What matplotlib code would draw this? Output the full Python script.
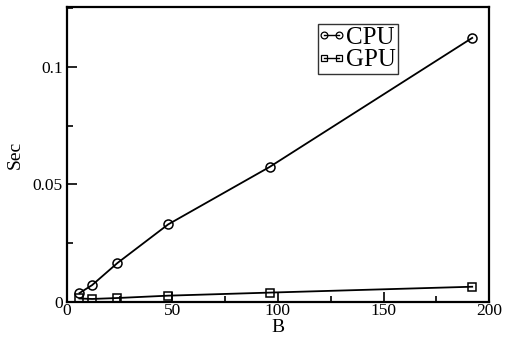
import matplotlib
matplotlib.use("Agg")
import matplotlib.pyplot as plt
from matplotlib.ticker import MultipleLocator
from matplotlib.lines import Line2D
from matplotlib.legend_handler import HandlerLine2D

B = [6, 12, 24, 48, 96, 192]
cpu = [0.0038, 0.0072, 0.0166, 0.033, 0.0574, 0.1123]
gpu = [0.0015, 0.0013, 0.0017, 0.0027, 0.0040, 0.0065]

plt.rcParams['font.family'] = ['Liberation Serif', 'DejaVu Serif']

fig = plt.figure(figsize=(5.1, 3.43), dpi=100)
ax = fig.add_axes([0.131, 0.1195, 0.828, 0.8605])

ax.plot(B, cpu, color='black', lw=1.3, marker='o', ms=6.5, mfc='none', mec='black', mew=1.1, label='CPU')
ax.plot(B, gpu, color='black', lw=1.3, marker='s', ms=5.5, mfc='none', mec='black', mew=1.1, label='GPU')

ax.set_xlim(0, 200)
ax.set_ylim(0, 0.1255)
ax.xaxis.set_minor_locator(MultipleLocator(25))
ax.yaxis.set_minor_locator(MultipleLocator(0.025))
ax.set_xticks([0, 50, 100, 150, 200])
ax.set_xticklabels(['0', '50', '100', '150', '200'])
ax.set_yticks([0, 0.05, 0.1])
ax.set_yticklabels(['0', '0.05', '0.1'])
ax.tick_params(which='both', direction='in', labelsize=12.5, width=1.2)
ax.tick_params(which='major', length=7)
ax.tick_params(which='minor', length=4)
ax.tick_params(axis='x', pad=1)
ax.tick_params(axis='y', pad=3)
for s in ax.spines.values():
    s.set_linewidth(1.6)

ax.set_xlabel('B', fontsize=14, labelpad=0)
ax.set_ylabel('Sec', fontsize=14, labelpad=6)

leg = ax.legend(loc='upper left', bbox_to_anchor=(0.595, 0.942), numpoints=2, fontsize=18,
                frameon=True, fancybox=False, edgecolor='black', handlelength=0.9,
                handletextpad=0.1, borderpad=0.1, labelspacing=0.0, markerscale=0.75,
                borderaxespad=0, handler_map={Line2D: HandlerLine2D(marker_pad=0.15)})
leg.get_frame().set_linewidth(1.0)
for h in leg.legend_handles:
    h.set_markeredgewidth(0.9)
    h.set_linewidth(1.0)

fig.savefig('out.png', dpi=100)
